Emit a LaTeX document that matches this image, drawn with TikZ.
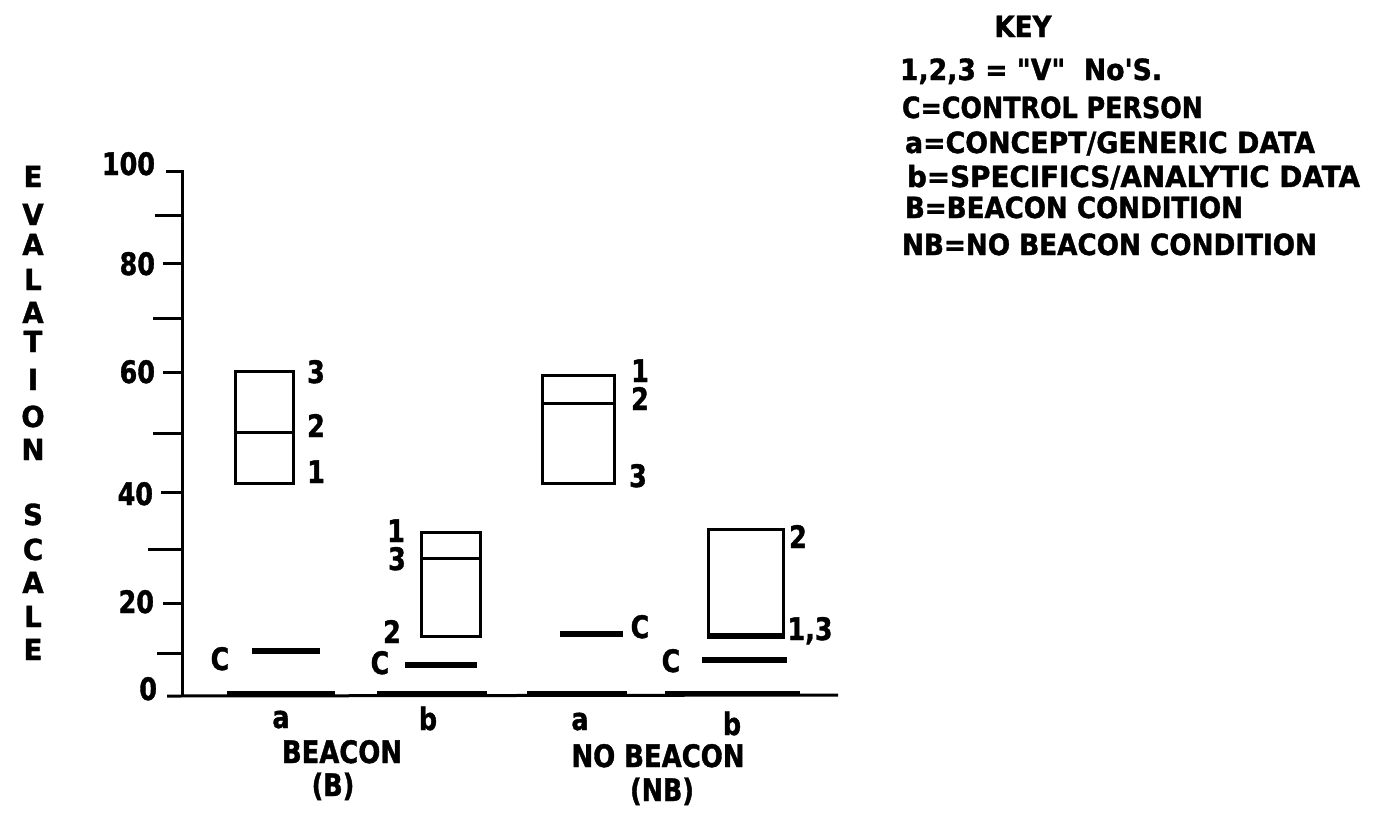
\documentclass[tikz,border=0pt]{standalone}
\usepackage{fontspec}
\usepackage{graphicx}
\newfontfamily\cf{DejaVu Sans}[FakeStretch=0.82,FakeBold=1.2]
\newfontfamily\cfw{DejaVu Sans}[FakeStretch=0.95,FakeBold=1.2]
\newcommand{\fitw}[2]{\resizebox{#1}{\height}{#2}}
\begin{document}
\begin{tikzpicture}[x=0.5pt,y=-0.5pt,
  lab/.style={font=\cf\bfseries\fontsize{15.5pt}{18pt}\selectfont, inner sep=0pt, outer sep=0pt, anchor=base},
  keytxt/.style={font=\cf\bfseries\fontsize{14.6pt}{17pt}\selectfont, inner sep=0pt, outer sep=0pt, anchor=base west},
  ylet/.style={font=\cfw\bfseries\fontsize{14.5pt}{17pt}\selectfont, inner sep=0pt, outer sep=0pt, anchor=base},
  ax/.style={line width=1.5pt},
  boxl/.style={line width=1.5pt},
  cline/.style={line width=2.6pt},
  seg/.style={line width=2.4pt}]

\useasboundingbox (0,0) rectangle (1379,816);

% axes
\coordinate (ytop) at (182,171);
\coordinate (orig) at (182,696);
\coordinate (xstart) at (167,696);
\coordinate (xend) at (838,695);
\coordinate (t100) at (166,171);
\draw[ax] (t100) -- (ytop) -- (orig);
\draw[ax] (xstart) -- (xend);
\foreach \yy/\ll in {215/155,263/163,318/153,372/163,433/153,492/161,549/148,603/163,653/157}
  \draw[ax] (\ll,\yy) -- (182,\yy);

% thicker axis segments under groups
\draw[seg] (227,693) -- (335,693);
\draw[seg] (377,693) -- (487,693);
\draw[seg] (527,693) -- (627,693);
\draw[seg] (665,693) -- (800,693);

% tick labels
\node[lab, anchor=base east] (l100) at (155,175) {100};
\node[lab, anchor=base east] (l80) at (155,275) {80};
\node[lab, anchor=base east] (l60) at (155,383) {60};
\node[lab, anchor=base east] (l40) at (153,505) {40};
\node[lab, anchor=base east] (l20) at (154,613) {20};
\node[lab, anchor=base east] (l0) at (157,700) {0};

% vertical axis title
\node[ylet] (y1) at (33,187) {E};
\node[ylet] (y2) at (33,225) {V};
\node[ylet] (y3) at (33,255) {A};
\node[ylet] (y4) at (33,290) {L};
\node[ylet] (y5) at (33,323) {A};
\node[ylet] (y6) at (33,352) {T};
\node[ylet] (y7) at (33,390) {I};
\node[ylet] (y8) at (33,427) {O};
\node[ylet] (y9) at (33,460) {N};
\node[ylet] (y10) at (33,525) {S};
\node[ylet] (y11) at (33,560) {C};
\node[ylet] (y12) at (33,593) {A};
\node[ylet] (y13) at (33,627) {L};
\node[ylet] (y14) at (33,660) {E};

% Beacon a
\draw[boxl] (235,371) rectangle (293,483);
\draw[boxl] (235,432) -- (293,432);
\node[lab] (ba3) at (316,383) {3};
\node[lab] (ba2) at (316,437) {2};
\node[lab] (ba1) at (316,483) {1};
\draw[cline] (252,651) -- (320,651);
\node[lab] (bac) at (220,670) {C};

% Beacon b
\draw[boxl] (421,532) rectangle (480,636);
\draw[boxl] (421,558) -- (480,558);
\node[lab] (bb1) at (396,542) {1};
\node[lab] (bb3) at (397,570) {3};
\node[lab] (bb2) at (392,643) {2};
\draw[cline] (405,665) -- (477,665);
\node[lab] (bbc) at (380,674) {C};

% No beacon a
\draw[boxl] (542,375) rectangle (614,483);
\draw[boxl] (542,403) -- (614,403);
\node[lab] (na1) at (640,382) {1};
\node[lab] (na2) at (640,410) {2};
\node[lab] (na3) at (638,487) {3};
\draw[cline] (560,634) -- (623,634);
\node[lab] (nac) at (640,638) {C};

% No beacon b
\draw[boxl] (708,529) rectangle (783,637);
\draw[cline] (708,636) -- (783,636);
\node[lab] (nb2) at (798,548) {2};
\node[lab] (nb13) at (810,640) {1,3};
\draw[cline] (702,660) -- (787,660);
\node[lab] (nbc) at (671,672) {C};

% category labels
\node[lab] (xa1) at (281,728) {a};
\node[lab] (xb1) at (428,730) {b};
\node[lab] (xa2) at (580,730) {a};
\node[lab] (xb2) at (732,735) {b};
\node[lab] (beacon) at (342,763) {\fitw{60pt}{BEACON}};
\node[lab] (bshort) at (333,796) {(B)};
\node[lab] (nobeacon) at (658,767) {\fitw{86.5pt}{NO BEACON}};
\node[lab] (nbshort) at (662,801) {(NB)};

% key
\node[keytxt, anchor=base] (key) at (1023,37) {\fitw{28.5pt}{KEY}};
\node[keytxt] (k1) at (900,80) {\fitw{131pt}{1,2,3 = "V"\ \ No'S.}};
\node[keytxt] (k2) at (902,118) {\fitw{150.5pt}{C=CONTROL PERSON}};
\node[keytxt] (k3) at (905,153) {\fitw{205pt}{a=CONCEPT/GENERIC DATA}};
\node[keytxt] (k4) at (907,187) {\fitw{226.5pt}{b=SPECIFICS/ANALYTIC DATA}};
\node[keytxt] (k5) at (905,218) {\fitw{169pt}{B=BEACON CONDITION}};
\node[keytxt] (k6) at (902,255) {\fitw{207.5pt}{NB=NO BEACON CONDITION}};
\end{tikzpicture}
\end{document}
